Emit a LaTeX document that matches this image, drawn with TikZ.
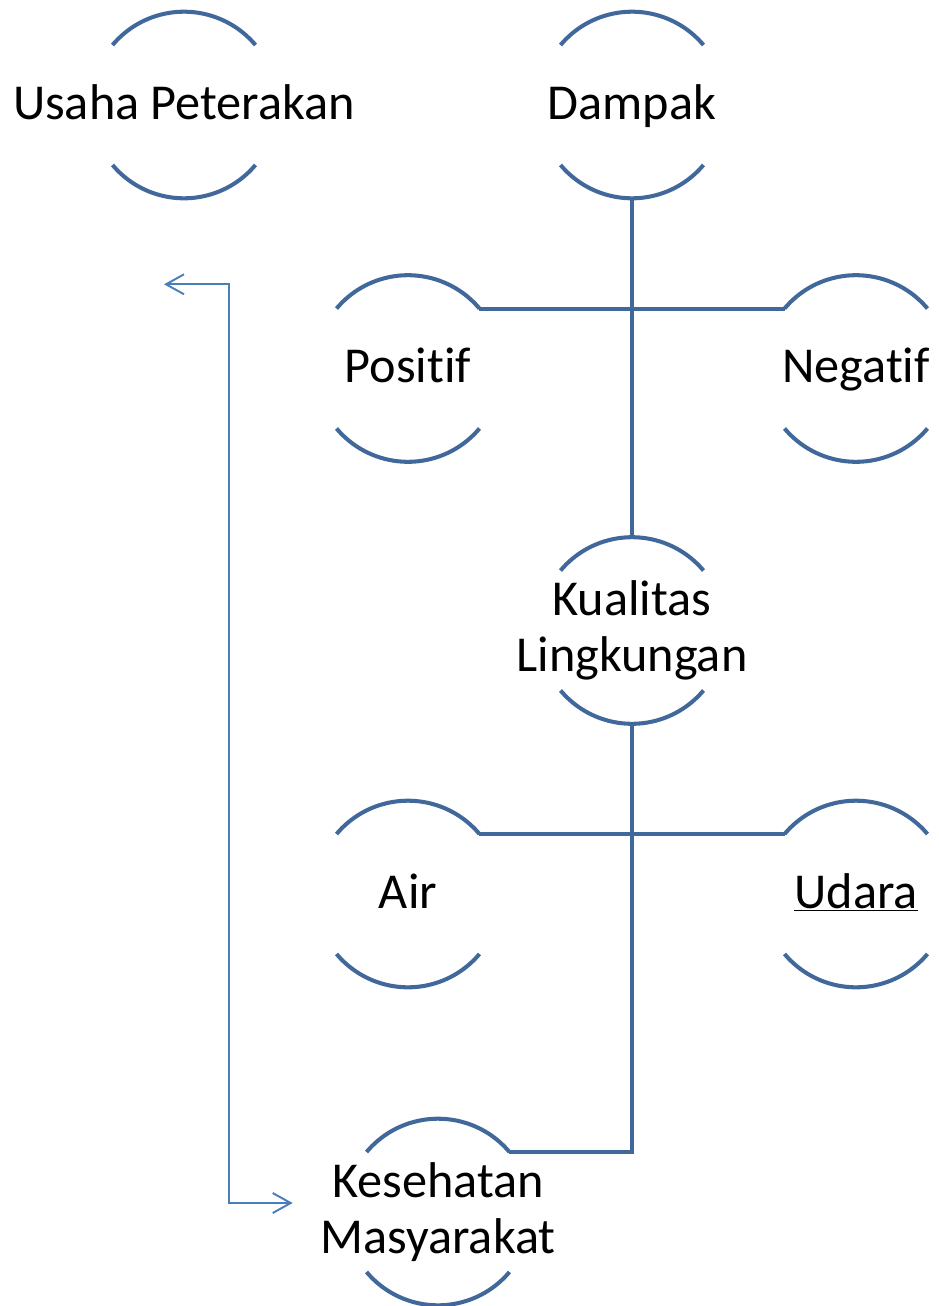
\documentclass[tikz,border=0pt]{standalone}
\usepackage{fontspec}
\setmainfont{Carlito}[Ligatures=NoCommon]
\usepackage{tikz}
\usetikzlibrary{arrows.meta}
\definecolor{rimblue}{RGB}{65,104,154}
\definecolor{linkblue}{RGB}{74,126,187}
\newcommand{\lbl}[1]{\makebox[0pt]{#1}}
\tikzstyle{topic} = [circle, minimum size=3.732cm, inner sep=0pt, outer sep=0pt, align=center, font=\fontsize{28.6pt}{31.9pt}\selectfont]
\tikzstyle{oneline} = [topic, text height=0.56cm, text depth=0pt]
\tikzstyle{rim} = [draw=rimblue, line width=2.3pt]
\tikzstyle{branch} = [draw=rimblue, line width=2.3pt]
\tikzstyle{link} = [draw=linkblue, line width=1.1pt, {Straight Barb[length=0.36cm,width=0.4cm]}-{Straight Barb[length=0.36cm,width=0.4cm]}]

\begin{document}
\begin{tikzpicture}[node distance=5.27cm]
\useasboundingbox (0,0) rectangle (18.76,-26.12);

\node (usaha) [oneline] at (3.68,-2.1) {\lbl{Usaha Peterakan}};
\node (dampak) [oneline, right of=usaha, node distance=8.96cm] {\lbl{Dampak}};
\node (positif) [oneline, below of=dampak, xshift=-4.48cm] {\lbl{Positif}};
\node (negatif) [oneline, below of=dampak, xshift=+4.48cm] {\lbl{Negatif}};
\node (kualitas) [topic, below of=dampak, node distance=10.51cm] {\lbl{Kualitas}\\\lbl{Lingkungan}};
\node (air) [oneline, below of=kualitas, xshift=-4.48cm] {\lbl{Air}};
\node (udara) [oneline, below of=kualitas, xshift=+4.48cm] {\lbl{\underline{Udara}}};
\node (kesehatan) [topic, below of=kualitas, node distance=11.63cm, xshift=-3.88cm] {\lbl{Kesehatan}\\\lbl{Masyarakat}};
\coordinate (usaha-end) at ([xshift=-0.4cm,yshift=-1.72cm]usaha.south);
\coordinate (kesehatan-end) at ([xshift=-1.04cm,yshift=0.18cm]kesehatan.west);

% open circles: top and bottom arcs only
\foreach \n in {usaha,dampak,positif,negatif,kualitas,air,udara,kesehatan} {
  \draw [rim] (\n.40) arc (40:140:1.866);
  \draw [rim] (\n.220) arc (220:320:1.866);
}

\draw [branch] (dampak.south) -- (kualitas.north);
\draw [branch] (positif.40) -- (negatif.140);
\draw [branch] (air.40) -- (udara.140);
\draw [branch] (kualitas.south) |- (kesehatan.40);
\draw [link] (usaha-end) -- ++(1.3,0) |- (kesehatan-end);

\end{tikzpicture}
\end{document}
